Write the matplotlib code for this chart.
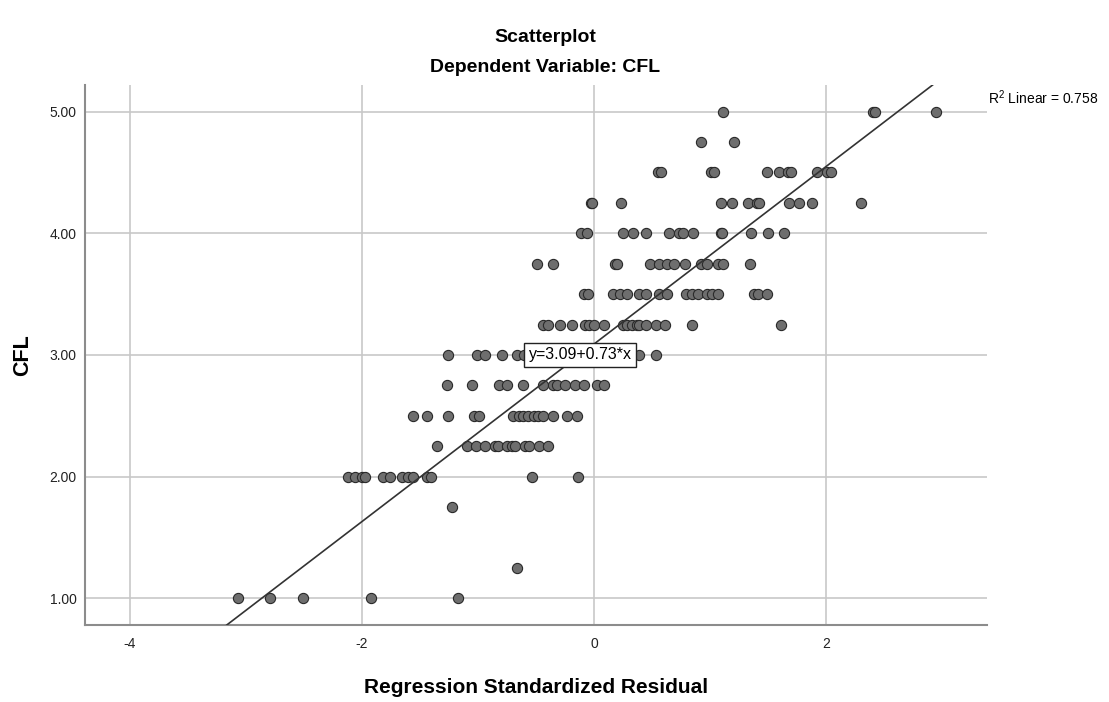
import matplotlib
matplotlib.use("Agg")
import matplotlib.pyplot as plt
import numpy as np

plt.rcParams['font.family'] = ['Liberation Sans', 'DejaVu Sans']
plt.rcParams['mathtext.fontset'] = 'custom'
plt.rcParams['mathtext.rm'] = 'Liberation Sans'
plt.rcParams['mathtext.it'] = 'Liberation Sans'

# ---- data ----
# regression standardized residual values per CFL level
cfl_levels = [5.00, 4.75, 4.50, 4.25, 4.00, 3.75, 3.50, 3.25, 3.00, 2.75, 2.50, 2.25, 2.00, 1.75, 1.25, 1.00]
residuals_by_level = [
    [1.11, 2.40, 2.42, 2.95],
    [0.92, 1.21],
    [0.55, 0.58, 1.01, 1.03, 1.49, 1.59, 1.67, 1.70, 1.92, 2.01, 2.04],
    [-0.03, -0.02, 0.23, 1.09, 1.19, 1.33, 1.40, 1.42, 1.68, 1.77, 1.88, 2.30],
    [-0.11, -0.06, 0.25, 0.34, 0.45, 0.65, 0.73, 0.77, 0.85, 1.09, 1.10, 1.35, 1.50, 1.64],
    [-0.49, -0.35, 0.18, 0.20, 0.48, 0.56, 0.63, 0.69, 0.78, 0.92, 0.97, 1.07, 1.11, 1.34],
    [-0.09, -0.05, 0.16, 0.22, 0.28, 0.39, 0.45, 0.56, 0.63, 0.79, 0.84, 0.90, 0.97, 1.02, 1.07, 1.38, 1.41, 1.49],
    [-0.44, -0.40, -0.29, -0.19, -0.08, -0.04, 0.00, 0.09, 0.25, 0.28, 0.33, 0.37, 0.39, 0.45, 0.53, 0.61, 0.84, 1.61],
    [-1.26, -1.01, -0.94, -0.79, -0.66, -0.60, 0.39, 0.53],
    [-1.27, -1.05, -0.82, -0.75, -0.61, -0.44, -0.35, -0.32, -0.25, -0.16, -0.09, 0.03, 0.09],
    [-1.56, -1.44, -1.26, -1.03, -0.99, -0.70, -0.65, -0.61, -0.57, -0.52, -0.48, -0.44, -0.35, -0.23, -0.15],
    [-1.35, -1.09, -1.02, -0.94, -0.85, -0.83, -0.75, -0.71, -0.68, -0.59, -0.56, -0.47, -0.40],
    [-2.12, -2.06, -2.00, -1.97, -1.82, -1.76, -1.65, -1.60, -1.56, -1.44, -1.40, -0.53, -0.14],
    [-1.22],
    [-0.66],
    [-3.07, -2.79, -2.51, -1.92, -1.17],
]
fit_intercept = 3.09
fit_slope = 0.73
r2_linear = 0.758

x_ticks = [-4, -2, 0, 2]
y_ticks = [1.0, 2.0, 3.0, 4.0, 5.0]

xs = np.concatenate([np.array(v) for v in residuals_by_level])
ys = np.concatenate([np.full(len(v), lvl) for v, lvl in zip(residuals_by_level, cfl_levels)])

# ---- figure ----
fig = plt.figure(figsize=(11.09, 7.02), dpi=100)
ax = fig.add_axes([85/1109, 1-625/702, (987-85)/1109, (625-85)/702])

ax.set_xlim(-4.384, 3.385)
ax.set_ylim(0.781, 5.219)

ax.set_xticks(x_ticks)
ax.set_xticklabels([str(t) for t in x_ticks])
ax.set_yticks(y_ticks)
ax.set_yticklabels([f"{t:.2f}" for t in y_ticks])
ax.tick_params(axis='both', length=0, labelsize=10, colors='#222222')
ax.tick_params(axis='x', pad=9)
ax.tick_params(axis='y', pad=6)

ax.grid(True, color='#c8c8c8', linewidth=1.2)
ax.set_axisbelow(True)
for s in ['top', 'right']:
    ax.spines[s].set_visible(False)
for s in ['left', 'bottom']:
    ax.spines[s].set_color('#8c8c8c')
    ax.spines[s].set_linewidth(1.5)

ax.scatter(xs, ys, s=54, facecolor='#6e6e6e', edgecolor='#2a2a2a', linewidth=0.8, zorder=3)

ax.axline((0, fit_intercept), slope=fit_slope, color='#333333', linewidth=1.2, zorder=4)

ax.text(-0.12, 3.0, f"y={fit_intercept:.2f}+{fit_slope:.2f}*x", ha='center', va='center',
        fontsize=11.5, zorder=5,
        bbox=dict(boxstyle='square,pad=0.3', facecolor='white', edgecolor='#222222', linewidth=1))

fig.text(988/1109, 1-98/702, f"R$^2$ Linear = {r2_linear:.3f}", ha='left', va='center', fontsize=10)

fig.text(545/1109, 1-38/702, "Scatterplot", ha='center', va='center', fontsize=14, fontweight='bold')
fig.text(545/1109, 1-68/702, "Dependent Variable: CFL", ha='center', va='center', fontsize=14, fontweight='bold')
fig.text(536/1109, 1-693/702, "Regression Standardized Residual", ha='center', va='baseline', fontsize=15, fontweight='bold')
fig.text(22.5/1109, 1-355/702, "CFL", ha='center', va='center', rotation=90, fontsize=15.5, fontweight='bold')

fig.savefig("out.png", dpi=100)
